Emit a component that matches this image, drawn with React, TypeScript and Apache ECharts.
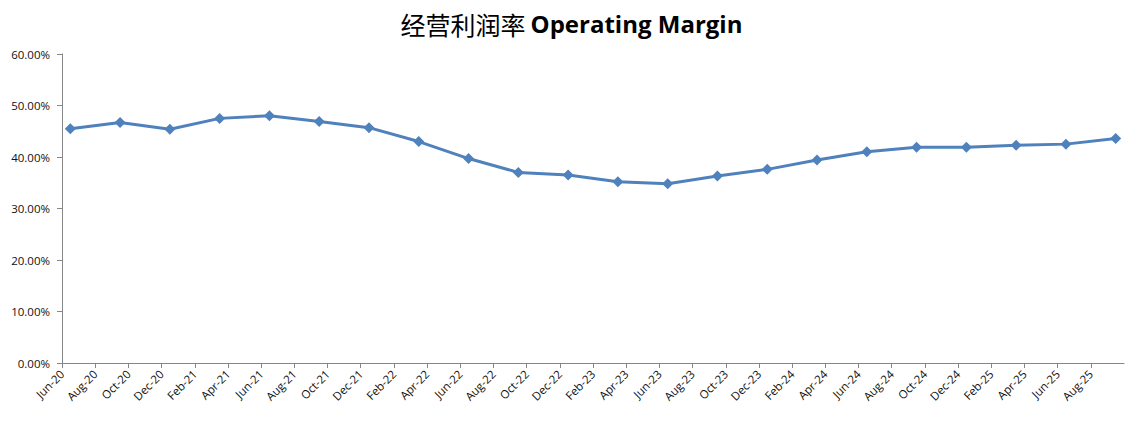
import React, { useEffect, useRef } from "react";
import * as echarts from "echarts";

// Quarterly observations (month index from Jun-20, value in %)
const quarterMonths = [0, 3, 6, 9, 12, 15, 18, 21, 24, 27, 30, 33, 36, 39, 42, 45, 48, 51, 54, 57, 60, 63];
const marginValues = [45.5, 46.7, 45.4, 47.5, 48.0, 46.9, 45.7, 43.0, 39.7, 37.0, 36.5, 35.2, 34.8, 36.3, 37.6, 39.4, 41.0, 41.9, 41.9, 42.3, 42.5, 43.6];
const tickLabels = [
  "Jun-20", "Aug-20", "Oct-20", "Dec-20", "Feb-21", "Apr-21", "Jun-21", "Aug-21",
  "Oct-21", "Dec-21", "Feb-22", "Apr-22", "Jun-22", "Aug-22", "Oct-22", "Dec-22",
  "Feb-23", "Apr-23", "Jun-23", "Aug-23", "Oct-23", "Dec-23", "Feb-24", "Apr-24",
  "Jun-24", "Aug-24", "Oct-24", "Dec-24", "Feb-25", "Apr-25", "Jun-25", "Aug-25",
];
const totalMonths = 64;

export default function App() {
  const ref = useRef<HTMLDivElement>(null);
  useEffect(() => {
    if (!ref.current) return;
    const chart = echarts.init(ref.current, null, { renderer: "svg" });
    const axisColor = "#868686";
    chart.setOption({
      animation: false,
      backgroundColor: "#ffffff",
      title: {
        text: "{cn|经营利润率} {en|Operating Margin}",
        left: "center",
        top: 6,
        textStyle: {
          rich: {
            cn: { fontFamily: "Noto Sans CJK SC", fontSize: 25, color: "#000", fontWeight: "normal" },
            en: { fontFamily: "Open Sans", fontSize: 24, color: "#000", fontWeight: "bold" },
          },
        },
      },
      grid: { left: 62, right: 19, top: 54, bottom: 58, containLabel: false },
      xAxis: {
        type: "value",
        min: 0,
        max: totalMonths,
        interval: 2,
        splitLine: { show: false },
        axisLine: { show: true, lineStyle: { color: axisColor, width: 1 } },
        axisTick: { show: true, length: 5, lineStyle: { color: axisColor } },
        axisLabel: {
          rotate: 45,
          margin: 9,
          fontSize: 11.5,
          fontFamily: "Open Sans",
          color: "#111",
          showMaxLabel: false,
          formatter: (v: number) => tickLabels[Math.round(v / 2)] ?? "",
        },
      },
      yAxis: {
        type: "value",
        min: 0,
        max: 60,
        interval: 10,
        splitLine: { show: false },
        axisLine: { show: true, lineStyle: { color: axisColor, width: 1 } },
        axisTick: { show: true, length: 5, lineStyle: { color: axisColor } },
        axisLabel: {
          margin: 12,
          fontSize: 11.5,
          fontFamily: "Open Sans",
          color: "#111",
          formatter: (v: number) => v.toFixed(2) + "%",
        },
      },
      series: [
        {
          type: "line",
          data: quarterMonths.map((m, i) => [m + 0.5, marginValues[i]]),
          symbol: "diamond",
          symbolSize: 11,
          showAllSymbol: true,
          lineStyle: { color: "#4F81BD", width: 3 },
          itemStyle: { color: "#4F81BD" },
        },
      ],
    });
    return () => chart.dispose();
  }, []);
  return <div ref={ref} style={{ width: 1143, height: 421, position: "absolute", left: 0, top: 0 }} />;
}
